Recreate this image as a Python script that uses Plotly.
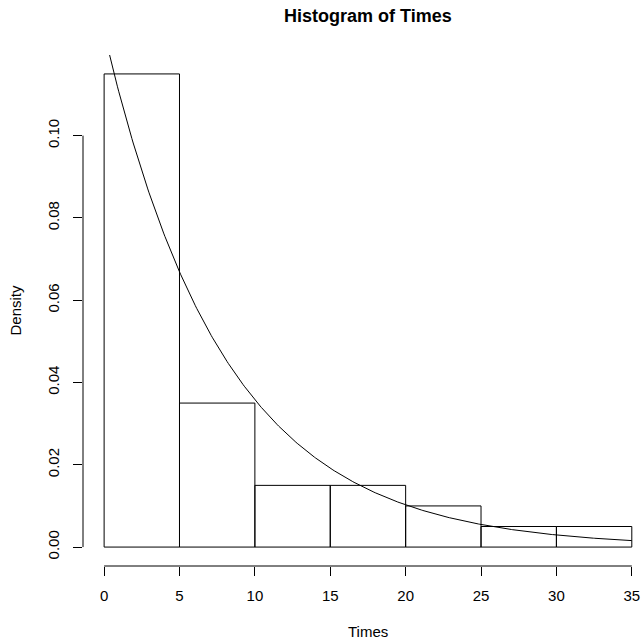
import numpy as np
import plotly.graph_objects as go

# Histogram data
bin_edges = [0, 5, 10, 15, 20, 25, 30, 35]
densities = [0.115, 0.035, 0.015, 0.015, 0.010, 0.005, 0.005]
# Fitted exponential density overlay: rate (mean ~ 8)
rate = 0.125
x_ticks = [0, 5, 10, 15, 20, 25, 30, 35]
y_ticks = [0.00, 0.02, 0.04, 0.06, 0.08, 0.10]
y_tick_labels = ["0.00", "0.02", "0.04", "0.06", "0.08", "0.10"]

centers = [(a + b) / 2 for a, b in zip(bin_edges[:-1], bin_edges[1:])]
widths = [b - a for a, b in zip(bin_edges[:-1], bin_edges[1:])]

curve_x = np.linspace(bin_edges[0], bin_edges[-1], 400)
curve_y = rate * np.exp(-rate * curve_x)

FONT = "Liberation Sans, Arial, Helvetica, sans-serif"

fig = go.Figure()
fig.add_trace(go.Bar(
    x=centers, y=densities, width=widths,
    marker=dict(color="rgba(255,255,255,0)", line=dict(color="black", width=1)),
    hoverinfo="skip", showlegend=False,
))
fig.add_trace(go.Scatter(
    x=curve_x, y=curve_y, mode="lines",
    line=dict(color="black", width=1), hoverinfo="skip", showlegend=False,
))

# body margin is removed by post_script, so layout pixels == window pixels
W, H = 641, 642
plot_left, plot_top, plot_bottom, plot_right = 83, 55, 566, 641
ml, mt = plot_left, plot_top
mr = W - plot_right
mb = H - plot_bottom
pw = W - ml - mr
ph = H - mt - mb
px_per_x = 15.077
xr = [-1.4, -1.4 + pw / px_per_x]
yr = [-0.0046, 0.1196]


def px(xw):
    return (xw - plot_left) / pw


def py(yw):
    return (plot_bottom - yw) / ph


fig.update_layout(
    width=W, height=H,
    margin=dict(l=ml, r=mr, t=mt, b=mb, pad=0),
    paper_bgcolor="white", plot_bgcolor="white",
    font=dict(family=FONT, size=15, color="black"),
    showlegend=False,
    bargap=0,
    hovermode=False,
    xaxis=dict(
        range=xr, showgrid=False, zeroline=False, showline=False,
        tickmode="array", tickvals=x_ticks, ticktext=[str(v) for v in x_ticks],
        ticks="outside", ticklen=9, tickwidth=1, tickcolor="black",
        tickfont=dict(size=15, family=FONT, color="black"),
        ticklabelstandoff=7, ticklabeloverflow="allow",
    ),
    yaxis=dict(
        range=yr, showgrid=False, zeroline=False, showline=False,
        tickmode="array", tickvals=y_ticks, ticktext=y_tick_labels,
        ticks="outside", ticklen=9, tickwidth=1, tickcolor="black",
        tickangle=-90,
        tickfont=dict(size=15, family=FONT, color="black"),
        ticklabelstandoff=8,
    ),
    shapes=[
        dict(type="line", xref="x", yref="paper", x0=x_ticks[0], x1=x_ticks[-1], y0=0, y1=0,
             line=dict(color="black", width=1)),
        dict(type="line", xref="paper", yref="y", x0=0, x1=0, y0=y_ticks[0], y1=y_ticks[-1],
             line=dict(color="black", width=1)),
    ],
    annotations=[
        dict(text="<b>Histogram of Times</b>", xref="paper", yref="paper",
             x=px(367.5), y=py(16.5), xanchor="center", yanchor="middle",
             showarrow=False, font=dict(size=18, family=FONT, color="black")),
        dict(text="Times", xref="paper", yref="paper",
             x=px(367.5), y=py(632), xanchor="center", yanchor="middle",
             showarrow=False, font=dict(size=15, family=FONT, color="black")),
        dict(text="Density", xref="paper", yref="paper",
             x=px(15), y=0.5, xanchor="center", yanchor="middle", textangle=-90,
             showarrow=False, font=dict(size=15, family=FONT, color="black")),
    ],
)

fig.write_html(
    "out.html",
    config={"displayModeBar": False, "staticPlot": True},
    post_script="document.body.style.margin='0px';document.body.style.overflow='hidden';",
)
